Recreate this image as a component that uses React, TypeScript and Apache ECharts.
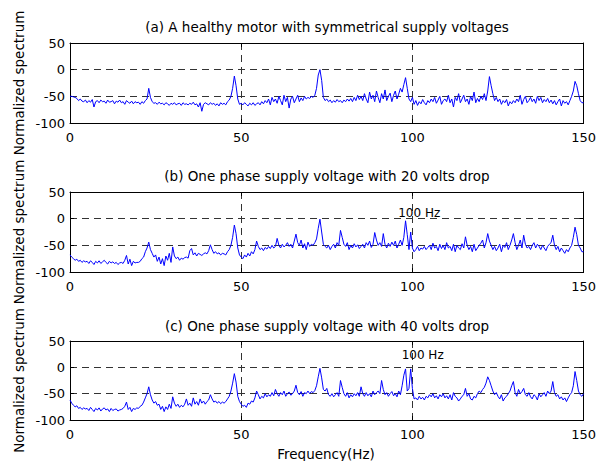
import React, { useEffect, useRef } from "react";
import * as echarts from "echarts";

// Frequency grid (Hz), 0.5 Hz steps from 0 to 150
const STEP_HZ = 0.5;

// Panel titles
const titles = [
  "(a) A healthy motor with symmetrical supply voltages",
  "(b) One phase supply voltage with 20 volts drop",
  "(c) One phase supply voltage with 40 volts drop",
];

const xTicks = [0, 50, 100, 150];
const yTicks = [-100, -50, 0, 50];

// (a) healthy motor, normalized spectrum (dB) every 0.5 Hz
const specA = [
  -50, -50, -51, -52, -54, -58, -55, -59, -60, -57,
  -62, -58, -61, -56, -70, -60, -58, -62, -57, -60,
  -59, -63, -57, -61, -60, -58, -64, -59, -61, -57,
  -62, -60, -65, -58, -61, -63, -59, -64, -60, -62,
  -61, -65, -60, -63, -58, -55, -35, -52, -60, -63,
  -62, -65, -61, -64, -63, -66, -62, -64, -67, -63,
  -65, -62, -66, -64, -63, -67, -62, -65, -64, -66,
  -63, -65, -61, -66, -64, -70, -62, -78, -65, -62,
  -64, -66, -62, -65, -63, -67, -64, -68, -62, -65,
  -63, -66, -60, -57, -50, -35, -12, -30, -55, -65,
  -63, -66, -62, -65, -68, -63, -66, -62, -67, -64,
  -62, -66, -60, -64, -58, -62, -55, -66, -52, -60,
  -55, -63, -50, -58, -66, -48, -60, -52, -72, -55,
  -50, -62, -55, -48, -60, -53, -58, -50, -55, -52,
  -54, -50, -52, -48, -35, -10, 0, -20, -52, -58,
  -55, -60, -57, -62, -58, -61, -56, -60, -58, -62,
  -57, -60, -55, -59, -54, -60, -52, -58, -48, -56,
  -50, -58, -45, -55, -62, -42, -55, -48, -60, -40,
  -52, -62, -45, -55, -38, -58, -50, -44, -60, -48,
  -40, -55, -46, -35, -42, -28, -15, -35, -55, -60,
  -52, -65, -58, -67, -60, -64, -56, -62, -66, -58,
  -62, -55, -60, -52, -63, -57, -50, -65, -58, -55,
  -60, -48, -62, -55, -70, -52, -58, -45, -62, -55,
  -48, -60, -55, -65, -50, -58, -42, -62, -54, -60,
  -50, -56, -45, -58, -40, -13, -30, -45, -58, -52,
  -60, -55, -65, -58, -62, -56, -68, -60, -64, -58,
  -62, -55, -60, -48, -65, -56, -50, -62, -58, -52,
  -60, -55, -63, -50, -58, -52, -62, -56, -60, -54,
  -62, -57, -64, -58, -66, -60, -55, -68, -58, -63,
  -60, -66, -58, -50, -40, -22, -30, -45, -58, -62,
  -62,
];

// (b) 20 V drop
const specB = [
  -68, -72, -75, -78, -76, -80, -78, -82, -79, -81,
  -80, -84, -79, -82, -86, -80, -83, -79, -84, -81,
  -78, -82, -85, -80, -83, -81, -84, -82, -86, -83,
  -82, -84, -78, -69, -85, -76, -88, -80, -83, -82,
  -82, -80, -75, -72, -62, -55, -44, -58, -65, -72,
  -68, -80, -72, -85, -75, -88, -70, -78, -65, -82,
  -53, -70, -75, -72, -78, -74, -76, -73, -72, -74,
  -60, -56, -68, -64, -70, -65, -67, -69, -66, -64,
  -66, -60, -49, -58, -65, -62, -66, -64, -68, -65,
  -66, -68, -62, -58, -50, -35, -12, -28, -55, -68,
  -72, -75, -68, -72, -65, -70, -62, -66, -58, -42,
  -52, -58, -55, -60, -54, -57, -52, -56, -50, -55,
  -52, -37, -50, -55, -48, -53, -50, -45, -52, -48,
  -55, -42, -29, -45, -50, -40, -55, -47, -58, -44,
  -52, -48, -50, -45, -38, -18, -1, -25, -48, -52,
  -55, -50, -58, -52, -48, -55, -45, -50, -22, -35,
  -48, -52, -45, -58, -50, -55, -47, -53, -49, -56,
  -52, -48, -55, -45, -50, -42, -54, -48, -26, -40,
  -50, -45, -52, -28, -48, -55, -46, -52, -44, -50,
  -42, -55, -48, -40, -50, -35, -4, -30, -58, -25,
  -55, -62, -58, -52, -60, -55, -57, -52, -58, -54,
  -50, -58, -46, -55, -52, -60, -48, -56, -50, -58,
  -45, -55, -52, -60, -48, -62, -50, -55, -58, -47,
  -55, -34, -50, -58, -52, -62, -48, -60, -55, -50,
  -46, -40, -55, -45, -28, -42, -50, -58, -52, -60,
  -55, -48, -62, -50, -54, -45, -58, -50, -40, -28,
  -45, -58, -50, -40, -55, -31, -48, -55, -52, -58,
  -50, -45, -55, -48, -52, -58, -50, -55, -60, -52,
  -48, -45, -31, -50, -58, -52, -62, -55, -60, -65,
  -58, -62, -55, -50, -35, -16, -30, -50, -55, -62,
  -62,
];

// (c) 40 V drop
const specC = [
  -62, -68, -72, -75, -73, -78, -76, -80, -77, -79,
  -78, -82, -76, -80, -84, -78, -81, -77, -83, -79,
  -77, -81, -79, -84, -78, -82, -80, -79, -83, -81,
  -80, -78, -74, -66, -80, -76, -84, -78, -80, -77,
  -78, -74, -72, -66, -58, -50, -37, -52, -62, -68,
  -65, -72, -70, -80, -74, -84, -75, -80, -70, -78,
  -56, -68, -74, -70, -76, -72, -75, -70, -60, -72,
  -68, -74, -58, -70, -65, -72, -60, -68, -64, -70,
  -65, -62, -52, -60, -66, -64, -68, -65, -69, -66,
  -68, -65, -60, -55, -45, -30, -12, -28, -55, -65,
  -70, -74, -72, -76, -68, -70, -64, -66, -58, -45,
  -52, -60, -55, -58, -50, -56, -52, -55, -48, -54,
  -42, -50, -55, -48, -52, -45, -55, -50, -47, -53,
  -50, -45, -34, -48, -52, -46, -55, -48, -50, -45,
  -50, -46, -48, -44, -35, -18, -2, -20, -42, -45,
  -40, -52, -55, -50, -56, -52, -48, -55, -25, -38,
  -50, -55, -48, -58, -52, -56, -50, -54, -48, -55,
  -37, -50, -55, -48, -54, -50, -56, -45, -52, -48,
  -45, -50, -25, -42, -52, -48, -55, -50, -46, -54,
  -50, -56, -45, -52, -35, -15, -3, -45, -40, -3,
  -40, -60, -58, -62, -55, -60, -57, -62, -55, -58,
  -52, -56, -50, -58, -54, -60, -52, -56, -50, -58,
  -54, -60, -52, -62, -48, -55, -58, -64, -60, -55,
  -52, -40, -55, -50, -60, -62, -55, -58, -50, -45,
  -48, -42, -38, -30, -18, -25, -35, -45, -52, -48,
  -55, -60, -52, -64, -58, -55, -50, -45, -35, -27,
  -48, -55, -42, -50, -46, -40, -52, -55, -48, -56,
  -60, -52, -55, -62, -50, -56, -52, -48, -55, -45,
  -50, -45, -27, -48, -55, -52, -60, -56, -62, -58,
  -65, -58, -52, -48, -35, -8, -25, -45, -52, -55,
  -50,
];

const spectra = [specA, specB, specC];

// "100 Hz" annotations: [panelIndex, freq, level]
const annotations: [number, number, number][] = [
  [1, 102, 10],
  [2, 103, 23],
];

const FONT = "DejaVu Sans";

export default function App() {
  const ref = useRef<HTMLDivElement>(null);

  useEffect(() => {
    if (!ref.current) return;
    const chart = echarts.init(ref.current, null, { renderer: "svg" });

    const grids = [
      { left: 70, top: 43, width: 515, height: 80 },
      { left: 70, top: 192, width: 515, height: 80 },
      { left: 70, top: 341, width: 515, height: 79 },
    ];

    const dash = { color: "#333", width: 1, type: [7, 5] as any };
    const boxLine = { show: true, onZero: false, lineStyle: { color: "#000", width: 1 } };
    const tick = { show: true, inside: true, length: 4, lineStyle: { color: "#000" } };

    const xAxes: any[] = [];
    const yAxes: any[] = [];
    const series: any[] = [];

    grids.forEach((g, i) => {
      xAxes.push({
        type: "value",
        gridIndex: i,
        min: xTicks[0],
        max: xTicks[xTicks.length - 1],
        interval: 50,
        position: "bottom",
        axisLine: boxLine,
        axisTick: tick,
        axisLabel: { show: true, color: "#000", fontFamily: FONT, fontSize: 13, margin: 8 },
        splitLine: { show: true, showMinLine: false, showMaxLine: false, lineStyle: dash },
      });
      xAxes.push({
        type: "value",
        gridIndex: i,
        min: xTicks[0],
        max: xTicks[xTicks.length - 1],
        interval: 50,
        position: "top",
        axisLine: boxLine,
        axisTick: tick,
        axisLabel: { show: false },
        splitLine: { show: false },
      });
      yAxes.push({
        type: "value",
        gridIndex: i,
        min: yTicks[0],
        max: yTicks[yTicks.length - 1],
        interval: 50,
        position: "left",
        axisLine: boxLine,
        axisTick: tick,
        axisLabel: { show: true, color: "#000", fontFamily: FONT, fontSize: 13, margin: 5 },
        splitLine: { show: true, showMinLine: false, showMaxLine: false, lineStyle: dash },
      });
      yAxes.push({
        type: "value",
        gridIndex: i,
        min: yTicks[0],
        max: yTicks[yTicks.length - 1],
        interval: 50,
        position: "right",
        axisLine: boxLine,
        axisTick: tick,
        axisLabel: { show: false },
        splitLine: { show: false },
      });

      const spec = spectra[i];
      const ann = annotations.filter((a) => a[0] === i);
      series.push({
        type: "line",
        xAxisIndex: i * 2,
        yAxisIndex: i * 2,
        data: spec.map((v, k) => [k * STEP_HZ, v]),
        showSymbol: false,
        symbol: "none",
        lineStyle: { color: "#0000ff", width: 1 },
        itemStyle: { color: "#0000ff" },
        markPoint: ann.length
          ? {
              symbol: "circle",
              symbolSize: 0,
              label: {
                show: true,
                position: "inside",
                formatter: "100 Hz",
                color: "#000",
                fontFamily: FONT,
                fontSize: 12,
              },
              data: ann.map((a) => ({ coord: [a[1], a[2]] })),
            }
          : undefined,
      });
    });

    const textStyle = (text: string, size: number) => ({
      text,
      fill: "#000",
      fontFamily: FONT,
      fontSize: size,
      align: "center",
      textAlign: "center",
      verticalAlign: "middle",
      textVerticalAlign: "middle",
    });

    const titleYs = [27, 176, 326];
    const graphic: any[] = [];
    titles.forEach((t, i) => {
      graphic.push({ type: "text", x: 327, y: titleYs[i], style: textStyle(t, 13.5) });
      const g = grids[i];
      graphic.push({
        type: "text",
        x: 19,
        y: g.top + g.height / 2,
        rotation: Math.PI / 2,
        style: textStyle("Normalized spectrum", 13.5),
      });
    });
    graphic.push({ type: "text", x: 326, y: 454, style: textStyle("Frequency(Hz)", 13.5) });

    chart.setOption({
      animation: false,
      backgroundColor: "#fff",
      grid: grids,
      xAxis: xAxes,
      yAxis: yAxes,
      series,
      graphic,
    });

    return () => chart.dispose();
  }, []);

  return (
    <div
      ref={ref}
      style={{ position: "fixed", left: 0, top: 0, width: 599, height: 461, background: "#fff" }}
    />
  );
}
